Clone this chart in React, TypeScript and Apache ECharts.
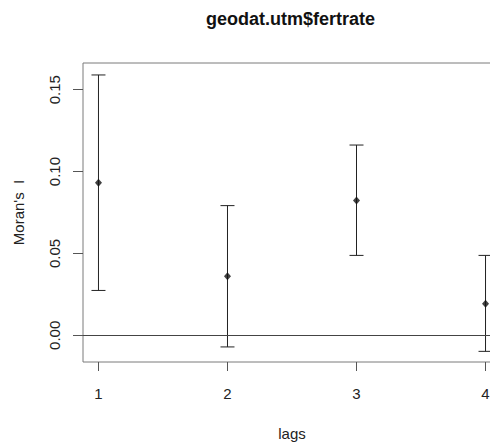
import React, { useEffect, useRef } from "react";
import * as echarts from "echarts";

const lags = [1, 2, 3, 4];
const moranI = [0.0931, 0.036, 0.0823, 0.0193];
const lower = [0.0274, -0.0071, 0.0488, -0.0098];
const upper = [0.159, 0.0792, 0.1162, 0.0488];
const expectedI = -0.0037;
const yTicks = [0, 0.05, 0.1, 0.15];
const xTicks = [1, 2, 3, 4];
const titleText = "geodat.utm$fertrate";
const xName = "lags";
const yName = "Moran's  I";

const FONT = "Liberation Sans, Arial, Helvetica, sans-serif";

export default function App() {
  const ref = useRef<HTMLDivElement>(null);
  useEffect(() => {
    if (!ref.current) return;
    const chart = echarts.init(ref.current, null, { renderer: "svg" });
    const barData = lags.map((l, i) => [l, lower[i], upper[i]]);
    const pointData = lags.map((l, i) => [l, moranI[i]]);
    chart.setOption({
      animation: false,
      backgroundColor: "#ffffff",
      title: {
        text: titleText,
        left: 206,
        top: 10,
        padding: 0,
        textStyle: { fontFamily: FONT, fontSize: 18, fontWeight: "bold", color: "#111" },
      },
      grid: {
        left: 83,
        top: 63,
        right: 1,
        bottom: 82,
        containLabel: false,
        outerBoundsMode: "none",
        show: true,
        borderColor: "#7a7a7a",
        borderWidth: 1,
        backgroundColor: "transparent",
      },
      xAxis: {
        type: "value",
        min: 0.88,
        max: 4.12,
        name: xName,
        nameLocation: "middle",
        nameGap: 64,
        nameTextStyle: { fontFamily: FONT, fontSize: 15, color: "#222" },
        axisLine: { show: false, onZero: false },
        splitLine: { show: false },
        axisTick: {
          show: true,
          customValues: xTicks,
          length: 9,
          lineStyle: { color: "#555" },
        },
        axisLabel: {
          customValues: xTicks,
          margin: 24,
          fontFamily: FONT,
          fontSize: 15,
          color: "#222",
          formatter: (v: number) => String(v),
        },
      },
      yAxis: {
        type: "value",
        min: -0.0163,
        max: 0.1663,
        name: yName,
        nameLocation: "middle",
        nameGap: 57,
        nameTextStyle: { fontFamily: FONT, fontSize: 15, color: "#222" },
        axisLine: { show: false, onZero: false },
        splitLine: { show: false },
        axisTick: {
          show: true,
          customValues: yTicks,
          length: 10,
          lineStyle: { color: "#555" },
        },
        axisLabel: {
          customValues: yTicks,
          rotate: 90,
          margin: 21,
          fontFamily: FONT,
          fontSize: 15,
          color: "#222",
          formatter: (v: number) => v.toFixed(2),
        },
      },
      series: [
        {
          type: "custom",
          data: barData,
          silent: true,
          clip: false,
          renderItem: (params: any, api: any) => {
            const x = api.value(0);
            const lo = api.coord([x, api.value(1)]);
            const hi = api.coord([x, api.value(2)]);
            const w = 7;
            const style = { stroke: "#222", lineWidth: 1 };
            return {
              type: "group",
              children: [
                { type: "line", shape: { x1: lo[0], y1: lo[1], x2: hi[0], y2: hi[1] }, style },
                { type: "line", shape: { x1: lo[0] - w, y1: lo[1], x2: lo[0] + w, y2: lo[1] }, style },
                { type: "line", shape: { x1: hi[0] - w, y1: hi[1], x2: hi[0] + w, y2: hi[1] }, style },
              ],
            };
          },
        },
        {
          type: "scatter",
          data: pointData,
          symbol: "diamond",
          symbolSize: [7, 8],
          itemStyle: { color: "#111" },
          silent: true,
          markLine: {
            silent: true,
            symbol: ["none", "none"],
            label: { show: false },
            lineStyle: { color: "#444", type: "solid", width: 1 },
            data: [{ yAxis: expectedI }],
          },
        },
      ],
    });
    return () => chart.dispose();
  }, []);
  return (
    <div style={{ position: "fixed", left: 0, top: 0, width: 490, height: 444, overflow: "hidden", background: "#fff" }}>
      <div ref={ref} style={{ width: 502, height: 444 }} />
    </div>
  );
}
